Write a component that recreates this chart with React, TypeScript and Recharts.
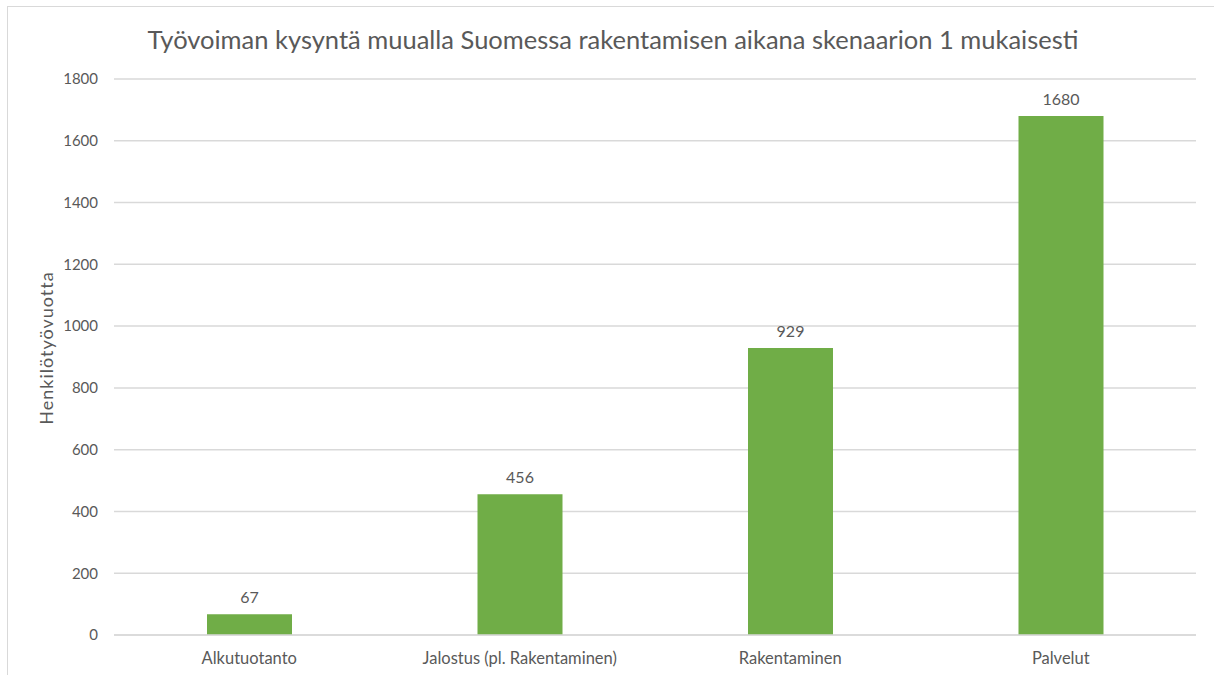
import React from "react";
import {
  BarChart,
  Bar,
  XAxis,
  YAxis,
  CartesianGrid,
  LabelList,
} from "recharts";

const categories = [
  "Alkutuotanto",
  "Jalostus (pl. Rakentaminen)",
  "Rakentaminen",
  "Palvelut",
];
const values = [67, 456, 929, 1680];
const yTicks = [0, 200, 400, 600, 800, 1000, 1200, 1400, 1600, 1800];

const TITLE =
  "Työvoiman kysyntä muualla Suomessa rakentamisen aikana skenaarion 1 mukaisesti";
const Y_LABEL = "Henkilötyövuotta";

const FONT = "Lato, 'Open Sans', sans-serif";
const TEXT = "#595959";

const data = categories.map((name, i) => ({ name, value: values[i] }));

export default function App() {
  return (
    <div
      style={{
        position: "absolute",
        left: 7,
        top: 6,
        width: 1220,
        height: 680,
        border: "1px solid #d9d9d9",
        background: "#fff",
        fontFamily: FONT,
      }}
    >
      <div
        style={{
          position: "absolute",
          left: 0,
          top: 17,
          width: 1210,
          textAlign: "center",
          fontSize: 25.5,
          color: TEXT,
        }}
      >
        {TITLE}
      </div>
      <BarChart
        width={1205}
        height={668}
        data={data}
        margin={{ top: 72, right: 17, bottom: 0, left: 0 }}
      >
        <CartesianGrid vertical={false} stroke="#d9d9d9" strokeWidth={1.5} />
        <XAxis
          dataKey="name"
          axisLine={{ stroke: "#d9d9d9", strokeWidth: 1.5 }}
          tickLine={false}
          tickSize={0}
          tickMargin={17}
          height={40}
          tick={{ fill: TEXT, fontSize: 16.5, fontFamily: FONT }}
        />
        <YAxis
          width={106}
          domain={[0, 1800]}
          ticks={yTicks}
          axisLine={false}
          tickLine={false}
          tickSize={0}
          tickMargin={16}
          tick={{ fill: TEXT, fontSize: 15, fontFamily: FONT }}
          label={() => (
            <text
              x={38}
              y={341}
              transform="rotate(-90 38 341)"
              textAnchor="middle"
              dominantBaseline="central"
              fill={TEXT}
              fontSize={18}
              letterSpacing={1}
              fontFamily={FONT}
            >
              {Y_LABEL}
            </text>
          )}
        />
        <Bar dataKey="value" fill="#70ad47" barSize={85} isAnimationActive={false}>
          <LabelList
            dataKey="value"
            position="top"
            offset={11}
            fill={TEXT}
            fontSize={16}
            fontFamily={FONT}
          />
        </Bar>
      </BarChart>
    </div>
  );
}
